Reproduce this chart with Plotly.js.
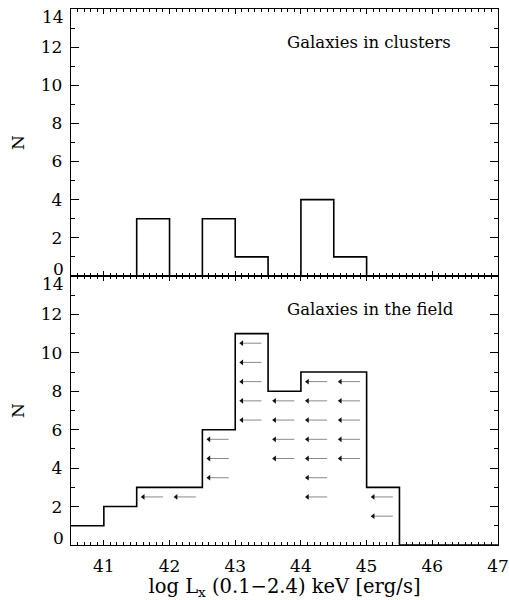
<!DOCTYPE html>
<html>
<head>
<meta charset="utf-8">
<script src="https://cdn.plot.ly/plotly-3.0.1.min.js"></script>
<style>html,body{margin:0;padding:0;background:#fff;}</style>
</head>
<body>
<div id="chart" style="width:509px;height:600px;"></div>
<script>
// Bin left edges (log Lx), width 0.5
var binEdges = [40.5, 41, 41.5, 42, 42.5, 43, 43.5, 44, 44.5, 45, 45.5, 46, 46.5];
var binRightEnd = 47;
// Counts per bin
var clusterCounts = [0, 0, 3, 0, 3, 1, 0, 4, 1, 0, 0, 0, 0];
var fieldCounts   = [1, 2, 3, 3, 6, 11, 8, 9, 9, 3, 0, 0, 0];
// Upper limits in the field sample: bin left edge and stacked position
var limitBin = [41.5, 42.0,
                42.5, 42.5, 42.5,
                43.0, 43.0, 43.0, 43.0, 43.0,
                43.5, 43.5, 43.5, 43.5,
                44.0, 44.0, 44.0, 44.0, 44.0, 44.0, 44.0,
                44.5, 44.5, 44.5, 44.5, 44.5,
                45.0, 45.0];
var limitY   = [2.5, 2.5,
                3.5, 4.5, 5.5,
                6.5, 7.5, 8.5, 9.5, 10.5,
                4.5, 5.5, 6.5, 7.5,
                2.5, 3.5, 4.5, 5.5, 6.5, 7.5, 8.5,
                4.5, 5.5, 6.5, 7.5, 8.5,
                1.5, 2.5];
var panelLabels = ["Galaxies in clusters", "Galaxies in the field"];
var yInnerTicks = [2, 4, 6, 8, 10, 12];
var yEdgeTicks = [0, 14];
var xTitle = "log L<sub>x</sub> (0.1\u22122.4) keV [erg/s]";
var yTitle = "N";

var stepX = binEdges.concat([binRightEnd]);
function stepY(c){ return c.concat([c[c.length-1]]); }

var histLine = {color: '#000', width: 1.6, shape: 'hv'};
var traces = [];
traces.push({x: stepX, y: stepY(clusterCounts), xaxis: 'x2', yaxis: 'y2', mode: 'lines', line: histLine, hoverinfo: 'skip'});
traces.push({x: stepX, y: stepY(fieldCounts), xaxis: 'x', yaxis: 'y', mode: 'lines', line: histLine, hoverinfo: 'skip'});

// arrow shafts and heads (upper limits)
var sx = [], sy = [], hx = [], hy = [];
for (var i = 0; i < limitBin.length; i++) {
  sx.push(limitBin[i] + 0.1, limitBin[i] + 0.4, null);
  sy.push(limitY[i], limitY[i], null);
  hx.push(limitBin[i] + 0.1);
  hy.push(limitY[i]);
}
traces.push({x: sx, y: sy, xaxis: 'x', yaxis: 'y', mode: 'lines', line: {color: '#8a8a8a', width: 1}, hoverinfo: 'skip'});
traces.push({x: hx, y: hy, xaxis: 'x', yaxis: 'y', mode: 'markers', marker: {symbol: 'triangle-left', size: 5, color: '#111'}, hoverinfo: 'skip'});

var fontFam = 'DejaVu Serif, serif';
var tickSize = 17;
function xAx(extra){
  var a = {range: [40.5, 47], dtick: 1, tick0: 41, ticks: 'inside', ticklen: 5, tickwidth: 1, tickcolor: '#000',
    minor: {dtick: 0.1, ticks: 'inside', ticklen: 3, tickcolor: '#000', tickwidth: 1},
    showline: true, linecolor: '#000', linewidth: 1.2, mirror: 'ticks', showgrid: false, zeroline: false,
    ticklabelstandoff: 5,
    tickfont: {family: fontFam, size: tickSize, color: '#000'}};
  for (var k in extra) a[k] = extra[k];
  return a;
}
function yAx(extra){
  var a = {range: [0, 14], tickmode: 'array', tickvals: yInnerTicks, ticks: 'inside', ticklen: 8, tickwidth: 1, tickcolor: '#000',
    minor: {tickmode: 'linear', tick0: 0, dtick: 1, ticks: 'inside', ticklen: 4, tickcolor: '#000', tickwidth: 1},
    showline: true, linecolor: '#000', linewidth: 1.2, mirror: 'ticks', showgrid: false, zeroline: false,
    ticklabelstandoff: 4,
    tickfont: {family: fontFam, size: tickSize, color: '#000'},
    title: {text: yTitle, font: {family: fontFam, size: 17, color: '#000'}, standoff: 11}};
  for (var k in extra) a[k] = extra[k];
  return a;
}

var annotations = [
  {xref: 'x2', yref: 'y2', x: 43.75, y: 12.25, text: panelLabels[0], showarrow: false, xanchor: 'left', yanchor: 'middle',
   font: {family: fontFam, size: 16.5, color: '#000'}},
  {xref: 'x', yref: 'y', x: 43.75, y: 12.25, text: panelLabels[1], showarrow: false, xanchor: 'left', yanchor: 'middle',
   font: {family: fontFam, size: 16.5, color: '#000'}}
];
// edge tick labels (0 and 14), nudged inward as in the reference
var axesY = ['y', 'y2'];
for (var a = 0; a < axesY.length; a++) {
  for (var e = 0; e < yEdgeTicks.length; e++) {
    var v = yEdgeTicks[e];
    annotations.push({xref: 'paper', yref: axesY[a], x: 0, y: v, xanchor: 'right', yanchor: 'middle',
      xshift: -5, yshift: (v === 0 ? 7 : -8), text: String(v), showarrow: false,
      font: {family: fontFam, size: tickSize, color: '#000'}});
  }
}

var layout = {
  width: 509, height: 600,
  margin: {l: 70.5, r: 11, t: 9, b: 55},
  paper_bgcolor: '#fff', plot_bgcolor: '#fff',
  showlegend: false,
  xaxis: xAx({anchor: 'y', domain: [0, 1],
    title: {text: xTitle, font: {family: fontFam, size: 19.5, color: '#000'}, standoff: 7}}),
  xaxis2: xAx({anchor: 'y2', domain: [0, 1], matches: 'x', showticklabels: false}),
  yaxis: yAx({anchor: 'x', domain: [0, 0.502]}),
  yaxis2: yAx({anchor: 'x2', domain: [0.502, 1]}),
  annotations: annotations
};

Plotly.newPlot('chart', traces, layout, {staticPlot: true, displayModeBar: false});
</script>
</body>
</html>
